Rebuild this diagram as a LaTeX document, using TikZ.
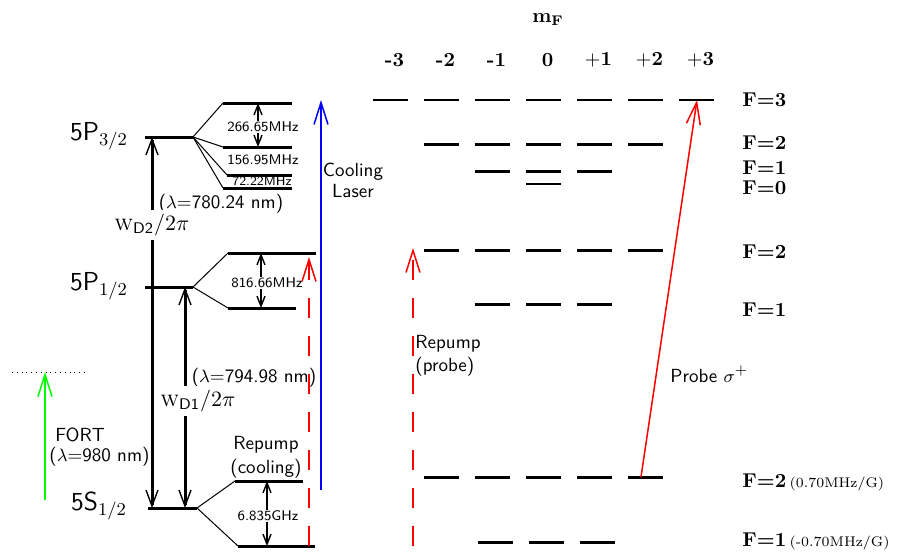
\documentclass[tikz,border=0pt]{standalone}
\usepackage{amsmath, amssymb}
\usepackage{tikz}
\usetikzlibrary{arrows.meta}

\begin{document}
\begin{tikzpicture}[x=0.5pt, y=-0.5pt,
		level/.style={line width=1.5pt},
		fan/.style={line width=0.5pt},
		trans/.style={line width=1.5pt, {Straight Barb[length=8pt,width=6pt,line width=0.7pt]}-{Straight Barb[length=8pt,width=6pt,line width=0.7pt]}},
		split/.style={line width=1.1pt, {Straight Barb[length=5pt,width=4pt,line width=0.7pt]}-{Straight Barb[length=5pt,width=4pt,line width=0.7pt]}},
		beam/.style={line width=0.75pt, -{Straight Barb[length=11pt,width=7pt]}},
		gaplbl/.style={fill=white, inner sep=0.6pt, font=\fontsize{7}{8}\selectfont\sffamily},
		statelbl/.style={font=\fontsize{13}{15}\selectfont\sffamily},
		txt/.style={font=\fontsize{9.5}{11}\selectfont\sffamily, inner sep=0pt},
		Flbl/.style={anchor=west, inner sep=0pt, font=\bfseries},
		mlbl/.style={inner sep=0pt, font=\bfseries}
	]
	\useasboundingbox (0,0) rectangle (907,552);

	% fine structure, left
	\coordinate (P3a) at (145,137); \coordinate (P3b) at (193,137);
	\coordinate (P1a) at (145,287); \coordinate (P1b) at (193,287);
	\coordinate (S1a) at (148,508); \coordinate (S1b) at (197,508);
	\draw[level] (P3a) -- (P3b);
	\draw[level] (P1a) -- (P1b);
	\draw[level] (S1a) -- (S1b);

	\node[statelbl] (nP3) at (99,136) {5P$_{3/2}$};
	\node[statelbl] (nP1) at (99,286) {5P$_{1/2}$};
	\node[statelbl] (nS1) at (99,506) {5S$_{1/2}$};

	% hyperfine, left
	\coordinate (h33) at (223,103); \coordinate (h33e) at (292,103);
	\coordinate (h32) at (223,147); \coordinate (h32e) at (292,147);
	\coordinate (h31) at (227,175); \coordinate (h31e) at (292,175);
	\coordinate (h30) at (223,188); \coordinate (h30e) at (292,188);
	\coordinate (h12) at (228,253); \coordinate (h12e) at (316,253);
	\coordinate (h11) at (228,308); \coordinate (h11e) at (296,308);
	\coordinate (g2) at (235,481); \coordinate (g2e) at (303,481);
	\coordinate (g1) at (238,546); \coordinate (g1e) at (315,546);
	\foreach \a/\b in {h33/h33e, h32/h32e, h31/h31e, h30/h30e, h12/h12e, h11/h11e, g2/g2e, g1/g1e}
		\draw[level] (\a) -- (\b);
	\foreach \a in {h33, h32, h31, h30}
		\draw[fan] (P3b) -- (\a);
	\foreach \a in {h12, h11}
		\draw[fan] (P1b) -- (\a);
	\foreach \a in {g2, g1}
		\draw[fan] (S1b) -- (\a);

	\draw[split] (258,103) -- (258,147);
	\node[gaplbl] (f266) at (263,127) {266.65MHz};
	\node[gaplbl, fill=none] (f156) at (263,160) {156.95MHz};
	\node[gaplbl, fill=none, font=\fontsize{6.5}{7}\selectfont\sffamily] (f72) at (262,181) {72.22MHz};
	\draw[split] (261,253) -- (261,308);
	\node[gaplbl] (f816) at (267,283) {816.66MHz};
	\draw[split] (267,481) -- (267,546);
	\node[gaplbl] (f6835) at (268,516) {6.835GHz};

	% D lines
	\coordinate (d2b) at (152,508); \coordinate (d2t) at (152,137);
	\coordinate (d1b) at (185,508); \coordinate (d1t) at (185,287);
	\draw[trans] (d2b) -- (d2t);
	\draw[trans] (d1b) -- (d1t);
	\node[txt] (lamD2) at (221,204) {($\lambda$=780.24 nm)};
	\node[fill=white, inner sep=2pt, font=\fontsize{11}{13}\selectfont] (wD2) at (152,225) {$\textsc{w}_{\textsf{D2}}/2\pi$};
	\node[txt] (lamD1) at (254,378) {($\lambda$=794.98 nm)};
	\node[fill=white, inner sep=2pt, font=\fontsize{11}{13}\selectfont] (wD1) at (198,401) {$\textsc{w}_{\textsf{D1}}/2\pi$};

	% lasers
	\coordinate (fortb) at (45,500); \coordinate (fortt) at (45,372);
	\draw[dotted] (12,372) -- (87,372);
	\draw[beam, green] (fortb) -- (fortt);
	\node[txt, anchor=west, align=left, font=\fontsize{9.5}{10}\selectfont\sffamily] (fort) at (49,447) {\hspace*{3pt}FORT\\($\lambda$=980 nm)};

	\coordinate (coolb) at (321,490); \coordinate (coolt) at (321,100);
	\draw[beam, blue] (coolb) -- (coolt);
	\node[txt, align=center, font=\fontsize{9.5}{10.5}\selectfont\sffamily] (cool) at (353,180) {Cooling\\Laser};

	\coordinate (rcb) at (309,546); \coordinate (rct) at (309,257);
	\draw[beam, red, dash pattern=on 10pt off 9pt] (rcb) -- (rct);
	\node[txt, align=center, font=\fontsize{9.5}{12}\selectfont\sffamily] (rcool) at (266,457) {Repump\\(cooling)};

	\coordinate (rpb) at (413,546); \coordinate (rpt) at (413,248);
	\draw[beam, red, dash pattern=on 10pt off 9pt] (rpb) -- (rpt);
	\node[txt, anchor=west, align=left, font=\fontsize{9.5}{11.5}\selectfont\sffamily] (rprobe) at (415,356) {Repump\\(probe)};

	% Zeeman sublevels, right
	\node[mlbl] (mF) at (548,20) {$\mathbf{m_F}$};
	\foreach \m/\t in {-3/\textbf{-3}, -2/\textbf{-2}, -1/\textbf{-1}, 0/\textbf{0}, 1/$\mathbf{+1}$, 2/$\mathbf{+2}$, 3/$\mathbf{+3}$}
		\node[mlbl] (m\m) at ({547.5+51*\m},60) {\t};

	\foreach \m in {-3,...,3}
		\draw[line width=0.9pt] ({526+51*\m},100) -- ++(35,0);
	\foreach \m in {-2,...,2}
		\draw[level] ({526+51*\m},144) -- ++(35,0);
	\foreach \m in {-1,...,1}
		\draw[level] ({526+51*\m},171) -- ++(35,0);
	\draw[line width=0.8pt] (526,184) -- ++(35,0);
	\foreach \m in {-2,...,2}
		\draw[level] ({526+51*\m},250) -- ++(35,0);
	\foreach \m in {-1,...,1}
		\draw[level] ({526+51*\m},304) -- ++(35,0);
	\foreach \m in {-2,...,2}
		\draw[level] ({526+51*\m},477) -- ++(35,0);
	\foreach \m in {-1,...,1}
		\draw[level] ({529+51*\m},542) -- ++(35,0);

	\node[Flbl] (F3) at (742,100) {F=3};
	\node[Flbl] (F2e) at (742,143) {F=2};
	\node[Flbl] (F1e) at (742,168) {F=1};
	\node[Flbl] (F0e) at (742,188) {F=0};
	\node[Flbl] (F2p) at (742,252) {F=2};
	\node[Flbl] (F1p) at (742,310) {F=1};
	\node[Flbl] (F2g) at (742,482) {F=2\,{\mdseries\scriptsize(0.70MHz/G)}};
	\node[Flbl] (F1g) at (742,541) {F=1\,{\mdseries\scriptsize(-0.70MHz/G)}};

	% probe
	\coordinate (prb) at (641,477); \coordinate (prt) at (697,100);
	\draw[beam, red] (prb) -- (prt);
	\node[txt, anchor=west] (probe) at (670,374) {Probe $\sigma^+$};
\end{tikzpicture}
\end{document}
